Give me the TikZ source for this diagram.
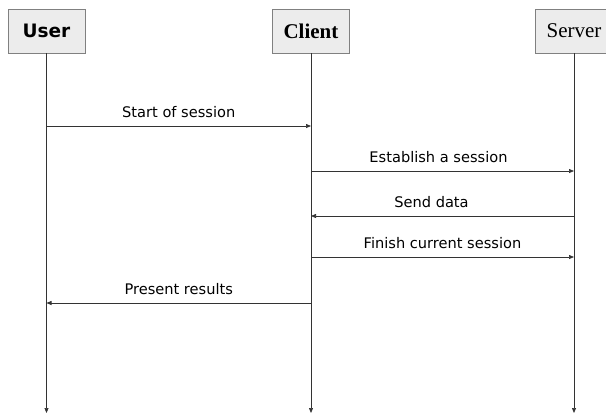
\documentclass[tikz,border=0pt]{standalone}
\usepackage{fontspec}
\newfontfamily\msgfont{DejaVu Sans}
\newfontfamily\serfont{Liberation Serif}
\usetikzlibrary{arrows.meta, positioning}

\begin{document}
\begin{tikzpicture}[
    x=1pt, y=-1pt,
    >={Triangle[length=5pt, width=4pt]},
    % Styles
    actor_box/.style={draw=gray, fill=gray!15, minimum width=77pt, minimum height=44pt, inner sep=0pt, line width=0.8pt},
    life_line/.style={draw=black!80, ->, line width=0.7pt},
    msg_arrow/.style={draw=black!80, ->, line width=0.7pt},
    msg_label/.style={font=\msgfont\fontsize{14.6}{16}\selectfont, above=8pt, inner sep=0pt, text depth=0pt}
]
\useasboundingbox (0,0) rectangle (606,416);

% 1. Participants
\node[actor_box, font=\msgfont\bfseries\fontsize{18.5}{20}\selectfont] (user) at (46.5,31) {User};
\node[actor_box, font=\serfont\bfseries\fontsize{21}{22}\selectfont] (client) at (311,31) {Client};
\node[actor_box, font=\serfont\fontsize{21}{23}\selectfont] (server) at (574,31) {Server};

% 2. Lifelines
\foreach \who in {user, client, server} {
    \coordinate (\who_end) at (\who |- 0,413);
    \draw[life_line] (\who) -- (\who_end);
}

% 3. Messages
\foreach \from/\to/\y/\dx/\txt in {user/client/126/0/Start of session,
                                   client/server/171/-4/Establish a session,
                                   server/client/216/-11/Send data,
                                   client/server/257/0/Finish current session,
                                   client/user/303/0/Present results} {
    \draw[msg_arrow] (\from |- 0,\y) -- node[msg_label, xshift=\dx pt] {\txt} (\to |- 0,\y);
}

\end{tikzpicture}
\end{document}
